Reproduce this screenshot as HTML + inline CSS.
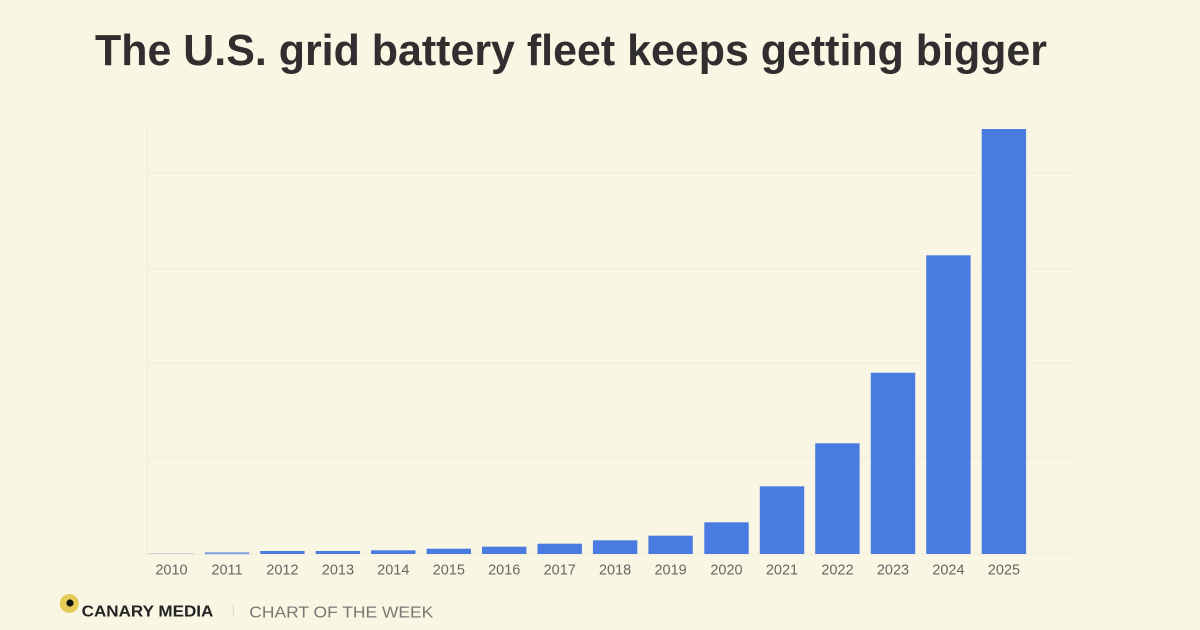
<!DOCTYPE html>
<html>
<head>
<meta charset="utf-8">
<style>
  html,body{margin:0;padding:0;background:#f9f6e4;}
  svg{display:block;}
</style>
</head>
<body>
<svg width="1200" height="630" viewBox="0 0 1200 630" xmlns="http://www.w3.org/2000/svg">
  <rect x="0" y="0" width="1200" height="630" fill="#f9f6e4"/>

  <!-- Title -->
  <text x="95" y="65" font-family="'Liberation Sans', sans-serif" font-weight="bold" font-size="44" fill="#302e2e" textLength="952" lengthAdjust="spacingAndGlyphs">The U.S. grid battery fleet keeps getting bigger</text>

  <!-- faint gridlines -->
  <g stroke="#f4f1de" stroke-width="2.5">
    <line x1="146" y1="173" x2="1075" y2="173"/>
    <line x1="146" y1="269" x2="1075" y2="269"/>
    <line x1="146" y1="363" x2="1075" y2="363"/>
    <line x1="146" y1="458" x2="1075" y2="458"/>
    <line x1="146" y1="554" x2="1075" y2="554"/>
    <line x1="147" y1="128" x2="147" y2="556"/>
  </g>

  <!-- bars -->
  <g fill="#4a7be0">
    <rect x="149.3" y="553" width="44.4" height="1" fill="#cdd0d4"/>
    <rect x="204.8" y="552.3" width="44.4" height="1.9" fill="#7a9be0"/>
    <rect x="260.2" y="551" width="44.4" height="3"/>
    <rect x="315.7" y="551" width="44.4" height="3"/>
    <rect x="371.1" y="550.3" width="44.4" height="3.7"/>
    <rect x="426.6" y="548.7" width="44.4" height="5.3"/>
    <rect x="482.0" y="546.7" width="44.4" height="7.3"/>
    <rect x="537.5" y="543.7" width="44.4" height="10.3"/>
    <rect x="592.9" y="540.3" width="44.4" height="13.7"/>
    <rect x="648.4" y="535.7" width="44.4" height="18.3"/>
    <rect x="704.3" y="522.3" width="44.4" height="31.7"/>
    <rect x="759.8" y="486.3" width="44.4" height="67.7"/>
    <rect x="815.2" y="443.3" width="44.4" height="110.7"/>
    <rect x="870.8" y="372.7" width="44.4" height="181.3"/>
    <rect x="926.2" y="255.3" width="44.4" height="298.7"/>
    <rect x="981.7" y="129" width="44.4" height="425"/>
  </g>

  <!-- x labels -->
  <g font-family="'Liberation Sans', sans-serif" font-size="14.5" fill="#676662" text-anchor="middle">
    <text x="171.5" y="574.3">2010</text>
    <text x="227.0" y="574.3">2011</text>
    <text x="282.4" y="574.3">2012</text>
    <text x="337.9" y="574.3">2013</text>
    <text x="393.3" y="574.3">2014</text>
    <text x="448.8" y="574.3">2015</text>
    <text x="504.2" y="574.3">2016</text>
    <text x="559.7" y="574.3">2017</text>
    <text x="615.1" y="574.3">2018</text>
    <text x="670.6" y="574.3">2019</text>
    <text x="726.5" y="574.3">2020</text>
    <text x="782.0" y="574.3">2021</text>
    <text x="837.4" y="574.3">2022</text>
    <text x="893.0" y="574.3">2023</text>
    <text x="948.4" y="574.3">2024</text>
    <text x="1003.9" y="574.3">2025</text>
  </g>

  <!-- footer -->
  <circle cx="69.3" cy="603.5" r="9.5" fill="#e6cc57"/>
  <circle cx="70" cy="603" r="3.6" fill="#111"/>
  <text x="81.7" y="616.7" font-family="'Liberation Sans', sans-serif" font-weight="bold" font-size="15.5" fill="#232323" textLength="131.6" lengthAdjust="spacingAndGlyphs">CANARY MEDIA</text>
  <line x1="233.3" y1="605" x2="233.3" y2="617" stroke="#dcd9c8" stroke-width="1"/>
  <text x="249.3" y="617.3" font-family="'Liberation Sans', sans-serif" font-size="16" fill="#7a7873" textLength="184" lengthAdjust="spacingAndGlyphs">CHART OF THE WEEK</text>
</svg>
</body>
</html>
